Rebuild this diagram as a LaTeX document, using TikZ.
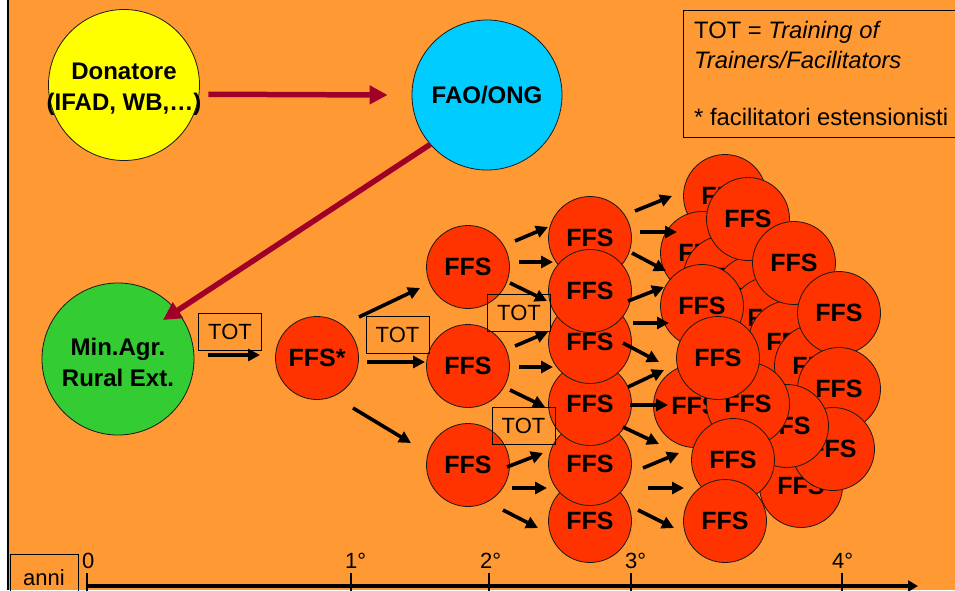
\documentclass[tikz,border=0pt]{standalone}
\usepackage{fontspec}
\setmainfont{Liberation Sans}
\usetikzlibrary{arrows.meta}
\definecolor{bgorange}{RGB}{255,153,51}
\definecolor{ffsred}{RGB}{255,51,0}
\definecolor{donyellow}{RGB}{255,255,0}
\definecolor{faocyan}{RGB}{0,204,255}
\definecolor{mingreen}{RGB}{51,204,51}
\definecolor{arrowred}{RGB}{160,0,40}
\begin{document}
\begin{tikzpicture}[x=1pt,y=-1pt,
  circ/.style={circle, draw=black!90, line width=0.8pt, inner sep=0pt, minimum size=#1},
  ffs/.style={circ=83pt, fill=ffsred, font=\bfseries\fontsize{25}{30}\selectfont},
  bigtxt/.style={font=\bfseries\fontsize{24}{31}\selectfont, align=center, inner sep=0pt},
  totbox/.style={draw=black, line width=0.9pt, minimum width=63pt, minimum height=37pt, inner sep=0pt, font=\fontsize{22}{26}\selectfont},
  arr/.style={line width=3.6pt, -{Triangle[length=12pt,width=12pt]}},
  redarr/.style={draw=arrowred, line width=5.5pt, -{Triangle[length=18pt,width=18pt]}},
  legtxt/.style={anchor=base west, inner sep=0pt, font=\fontsize{23.8}{28}\selectfont},
  axtxt/.style={anchor=base west, inner sep=0pt, font=\fontsize{22}{26}\selectfont},
  tick/.style={line width=2.5pt}
]
\useasboundingbox (0,0) rectangle (955,590);
\fill[white] (0,0) rectangle (8,590);
\fill[bgorange] (8,0) rectangle (955,590);
\draw[line width=2.5pt] (8,0) -- (8,590);

% top circles
\node[circ=151pt, fill=donyellow] (don) at (124,85) {};
\node[bigtxt] (dontxt) at (124,89) {Donatore\\(IFAD, WB,…)};
\node[circ=150pt, fill=faocyan, bigtxt] (fao) at (487,95) {FAO/ONG};
\node[circ=152pt, fill=mingreen] (min) at (118,359) {};
\node[bigtxt] (mintxt) at (118,362) {Min.Agr.\\Rural Ext.};

% legend
\node[draw, line width=1pt, anchor=north west, minimum width=285pt, minimum height=127pt, inner sep=0pt] (legend) at (683,10) {};
\node[legtxt] (leg1) at (694,38) {TOT = \textit{Training of}};
\node[legtxt] (leg2) at (694,68) {\textit{Trainers/Facilitators}};
\node[legtxt] (leg3) at (694,125) {* facilitatori estensionisti};

% FFS*
\node[ffs] (star) at (317,358) {FFS*};

% column 1
\node[ffs] (c11) at (468,267) {FFS};
\node[ffs] (c12) at (468,366) {FFS};
\node[ffs] (c13) at (468,465) {FFS};

% column 2
\node[ffs] (c26) at (590,521) {FFS};
\node[ffs] (c25) at (590,464) {FFS};
\node[ffs] (c24) at (590,404) {FFS};
\node[ffs] (c23) at (590,342) {FFS};
\node[ffs] (c21) at (590,238) {FFS};
\node[ffs] (c22) at (590,291) {FFS};

% column 3 cluster
\node[ffs] (dA) at (725,196) {FFS};
\node[ffs] (dC) at (702,253) {FFS};
\node[ffs] (dG) at (725,277) {FFS};
\node[ffs] (dH) at (755,297) {FFS};
\node[ffs] (dI) at (771,318) {FFS};
\node[ffs] (dJ) at (790,342) {FFS};
\node[ffs] (dL) at (816,366) {FFS};
\node[ffs] (dB) at (748,219) {FFS};
\node[ffs] (dD) at (794,263) {FFS};
\node[ffs] (dE) at (702,306) {FFS};
\node[ffs] (dF) at (839,313) {FFS};
\node[ffs] (dN) at (695,406) {FFS};
\node[ffs] (dM) at (839,389) {FFS};
\node[ffs] (dS) at (801,486) {FFS};
\node[ffs] (dQ) at (833,449) {FFS};
\node[ffs] (dP) at (787,426) {FFS};
\node[ffs] (dO) at (748,404) {FFS};
\node[ffs] (dK) at (718,358) {FFS};
\node[ffs] (dR) at (733,460) {FFS};
\node[ffs] (dT) at (725,521) {FFS};

% TOT boxes
\node[totbox] (t1) at (230,332) {TOT};
\node[totbox] (t2) at (397.5,335) {TOT};
\node[totbox] (t3) at (519,312.5) {TOT};
\node[totbox] (t4) at (523.5,426) {TOT};

% red arrows
\draw[redarr] ([xshift=9pt]don.-7) -- ([xshift=-24pt]fao.west);
\coordinate (r2e) at (163,320);
\draw[redarr] (fao.221) -- (r2e);

% black arrows
\foreach \n/\xa/\ya/\xb/\yb in {
 m1/208/355/260/355,
 q1/359/317/420/288, q2/367/362/425/362, q3/353/408/411/443,
 a1/515/241/548/227, a2/519/262/553/262, a3/510/283/547/301,
 a4/515/346/548/332, a5/519/367/553/367, a6/510/390/545/407,
 a7/507/467/543/453, a8/512/488/547/488, a9/503/510/538/528,
 b1/635/211/672/196, b2/640/232/677/232, b3/632/253/666/271,
 b4/628/301/664/287, b5/633/323/669/323, b6/623/343/659/362,
 b7/628/387/664/370, b8/630/405/668/405, b9/623/427/659/444,
 b10/643/468/679/453, b11/648/488/684/488, b12/638/510/674/528}
{\coordinate (s\n) at (\xa,\ya); \coordinate (e\n) at (\xb,\yb); \draw[arr] (s\n) -- (e\n);}

% axis
\coordinate (ax0) at (87,586);
\coordinate (axend) at (918,586);
\draw[line width=3.5pt, -{Triangle[length=10pt,width=11pt]}] (ax0) -- (axend);
\foreach \t/\x in {k0/87, k1/351, k2/489, k3/631, k4/842}
{\coordinate (\t a) at (\x,573); \coordinate (\t b) at (\x,595); \draw[tick] (\t a) -- (\t b);}
\node[axtxt] (l0) at (82,568) {0};
\node[axtxt] (l1) at (345,568) {1°};
\node[axtxt] (l2) at (480,568) {2°};
\node[axtxt] (l3) at (625,568) {3°};
\node[axtxt] (l4) at (832,568) {4°};
\node[draw, line width=0.9pt, anchor=north west, minimum width=68pt, minimum height=45pt, inner sep=0pt] (annibox) at (10,554) {};
\node[anchor=base, inner sep=0pt, font=\fontsize{22}{26}\selectfont] (anni) at (44,585) {anni};
\end{tikzpicture}
\end{document}
